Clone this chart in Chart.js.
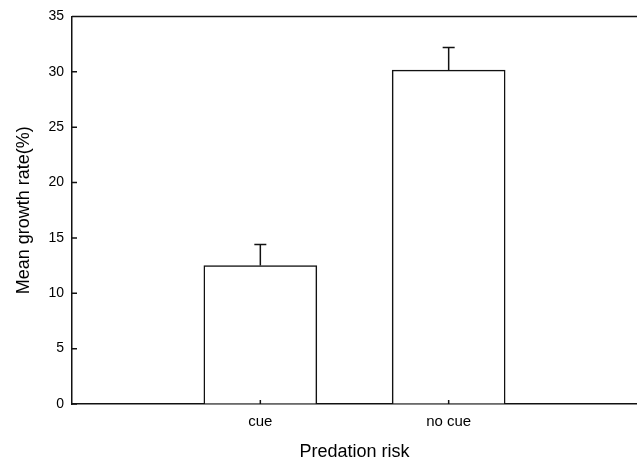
<!DOCTYPE html>
<html>
<head>
<meta charset="utf-8">
<script src="https://cdn.jsdelivr.net/npm/chart.js@4"></script>
<style>
  html, body { margin: 0; padding: 0; background: #fff; }
  #wrap { width: 637px; height: 460px; }
</style>
</head>
<body>
<div id="wrap"><canvas id="chart" width="637" height="460"></canvas></div>
<script>
// categories (empty slots on both ends keep the bars at 1/3 and 2/3 of the axis)
const categories = ['', 'cue', 'no cue', ''];
const meanGrowth = [null, 12.5, 30.15, null];
const errorTop = [null, 14.4, 32.2, null];
const yTicks = [0, 5, 10, 15, 20, 25, 30, 35];

Chart.defaults.font.family = "'Liberation Sans', Arial, sans-serif";
Chart.defaults.color = '#000';

const INK = '#111';

// error bars, closing top line and inward tick marks
const framePlugin = {
  id: 'frame',
  afterDatasetsDraw(chart) {
    const { ctx, chartArea: a, scales: { x, y } } = chart;
    ctx.save();
    ctx.strokeStyle = INK;
    ctx.lineWidth = 1.5;
    ctx.beginPath();
    // top border
    ctx.moveTo(a.left, a.top);
    ctx.lineTo(a.right, a.top);
    // y ticks pointing inward
    yTicks.forEach(v => {
      const py = y.getPixelForValue(v);
      ctx.moveTo(a.left, py);
      ctx.lineTo(a.left + 5, py);
    });
    // x ticks pointing inward
    categories.forEach((c, i) => {
      if (!c) return;
      const px = x.getPixelForValue(i);
      ctx.moveTo(px, a.bottom);
      ctx.lineTo(px, a.bottom - 4);
    });
    // error bars
    errorTop.forEach((e, i) => {
      if (e == null) return;
      const px = x.getPixelForValue(i);
      const y0 = y.getPixelForValue(meanGrowth[i]);
      const y1 = y.getPixelForValue(e);
      ctx.moveTo(px, y0);
      ctx.lineTo(px, y1);
      ctx.moveTo(px - 6, y1);
      ctx.lineTo(px + 6, y1);
    });
    ctx.stroke();
    ctx.restore();
  },
};

new Chart(document.getElementById('chart'), {
  type: 'bar',
  data: {
    labels: categories,
    datasets: [{
      data: meanGrowth,
      backgroundColor: '#fff',
      borderColor: INK,
      borderWidth: 1.5,
      barThickness: 113,
    }],
  },
  options: {
    responsive: false,
    animation: false,
    layout: { padding: { top: 15, right: 0, left: 0, bottom: 0 } },
    plugins: { legend: { display: false }, tooltip: { enabled: false } },
    scales: {
      x: {
        offset: false,
        grid: { display: false, drawTicks: false },
        border: { color: INK, width: 1.5 },
        ticks: { padding: 9, font: { size: 15 }, maxRotation: 0, autoSkip: false },
        title: { display: true, text: 'Predation risk', font: { size: 18 }, padding: { top: 0, bottom: -3 } },
        afterFit: s => { s.height = 56; s.paddingLeft = 0; s.paddingRight = 0; },
      },
      y: {
        min: 0, max: 35,
        afterBuildTicks: s => { s.ticks = yTicks.map(v => ({ value: v })); },
        grid: { drawOnChartArea: false, drawTicks: false },
        border: { color: INK, width: 1.5 },
        ticks: { padding: 8, font: { size: 14 } },
        title: { display: true, text: 'Mean growth rate(%)', font: { size: 18 }, padding: { top: 13, bottom: 0 } },
        afterFit: s => { s.width = 72; },
      },
    },
  },
  plugins: [framePlugin],
});
</script>
</body>
</html>
